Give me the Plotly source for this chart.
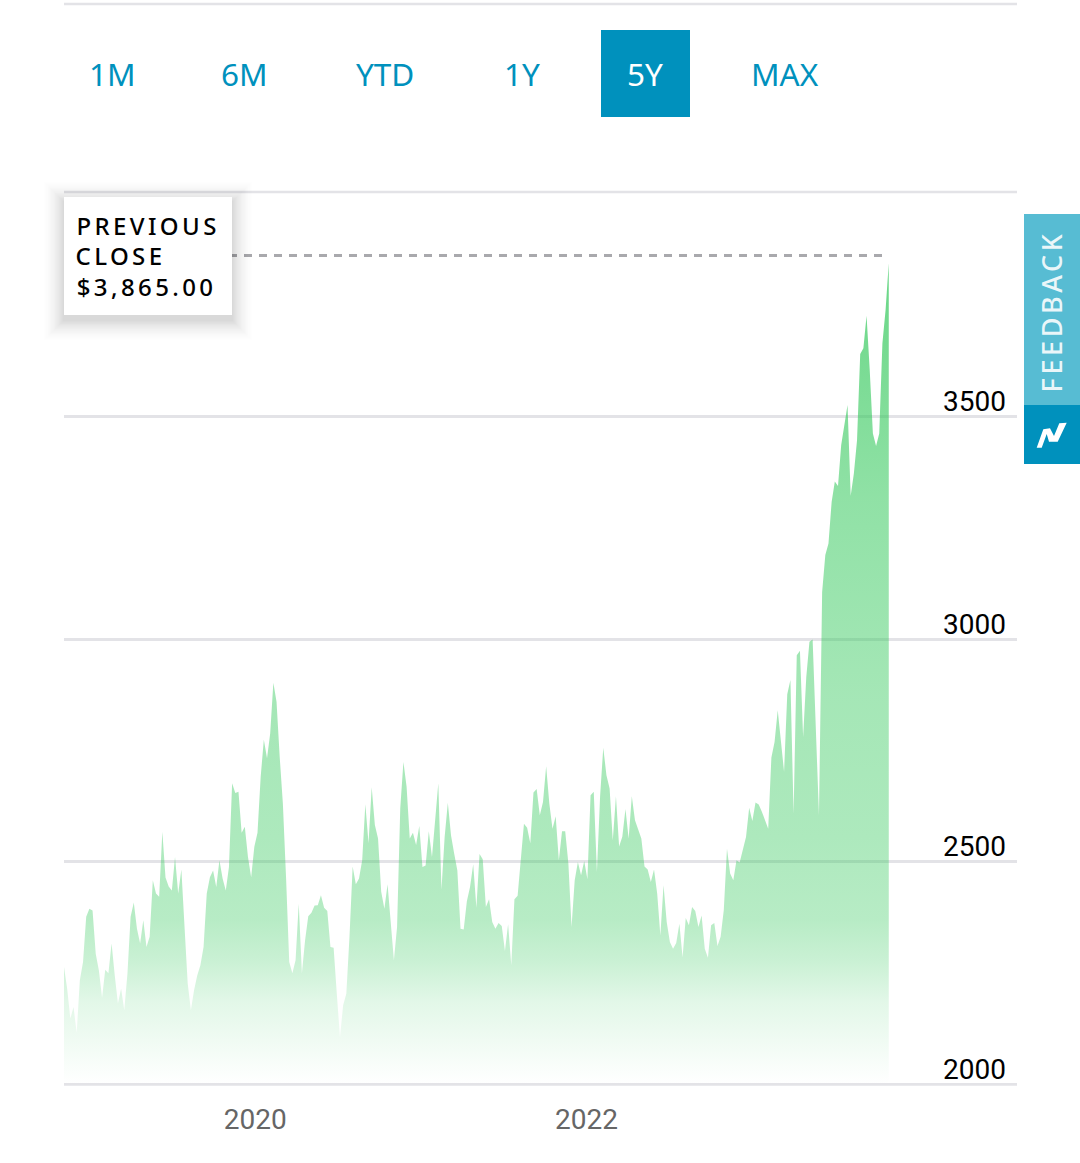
import pandas as pd
import plotly.graph_objects as go

W, H = 1080, 1163

close_values = [
 2263,2214,2147,2173,2115,2233,2274,2376,2394,2390,2293,2255,2194,2257,2249,2316,2244,2181,2214,2166,
 2248,2376,2408,2349,2316,2368,2308,2331,2458,2428,2421,2567,2464,2444,2435,2510,2428,2482,2353,2226,
 2166,2211,2244,2267,2308,2428,2465,2480,2443,2503,2462,2435,2488,2676,2654,2657,2565,2578,2510,2465,
 2533,2565,2690,2774,2732,2788,2902,2859,2735,2630,2465,2274,2249,2278,2405,2249,2323,2377,2385,2401,
 2402,2424,2396,2389,2308,2306,2203,2105,2177,2203,2331,2489,2449,2462,2503,2629,2541,2667,2582,2552,
 2432,2394,2449,2368,2278,2353,2619,2724,2668,2552,2565,2537,2580,2488,2491,2568,2510,2593,2676,2437,
 2556,2632,2559,2518,2480,2349,2347,2411,2443,2494,2396,2517,2505,2398,2415,2364,2349,2362,2355,2299,
 2359,2267,2415,2423,2510,2585,2576,2541,2655,2663,2604,2634,2714,2630,2574,2602,2503,2568,2568,2496,
 2353,2458,2499,2469,2501,2460,2649,2657,2477,2646,2756,2694,2664,2548,2647,2534,2556,2618,2552,2647,
 2593,2574,2552,2489,2482,2454,2482,2428,2334,2447,2364,2319,2304,2317,2360,2285,2373,2357,2398,2389,
 2353,2379,2304,2284,2357,2362,2310,2331,2391,2529,2473,2458,2503,2498,2525,2555,2621,2591,2633,2628,
 2612,2594,2574,2734,2769,2840,2773,2702,2876,2908,2608,2964,2974,2780,2915,2994,2999,2810,2604,3106,
 3189,3215,3309,3354,3344,3436,3478,3526,3322,3372,3447,3641,3654,3727,3605,3462,3434,3462,3665,3740,
 3845,
]
start_date = "2018-11-05"
dates = pd.date_range(start_date, periods=len(close_values), freq="7D")
y_ticks = [2000, 2500, 3000, 3500]
y_labels = ["2000", "2500", "3000", "3500"]
x_ticks = ["2020-01-01", "2022-01-01"]
x_labels = ["2020", "2022"]
range_buttons = ["1M", "6M", "YTD", "1Y", "5Y", "MAX"]
prev_close_line = 3862

BLUE = "#0091bd"
GRID = "#e3e3e7"
LOGO = [(1036.7, 447.7), (1041.7, 447.7), (1046.7, 434), (1049, 441.7), (1057.7, 441.7), (1066.7, 422.7),
        (1059.3, 423.3), (1054, 436), (1050, 428.3), (1043.3, 429.3)]


def px(x):
    return x / W


def py(y):
    return 1 - y / H


def rect(x0, y0, x1, y1, color, layer="above"):
    return dict(type="rect", xref="paper", yref="paper", x0=px(x0), x1=px(x1), y0=py(y0), y1=py(y1),
                fillcolor=color, line=dict(width=0), layer=layer)


def hline(y, x0=64, x1=1017):
    return dict(type="line", xref="paper", yref="paper", x0=px(x0), x1=px(x1), y0=py(y), y1=py(y),
                line=dict(color=GRID, width=2.7), layer="below")


def label(text, x, y, size, color, weight=400, **kw):
    return dict(text=text, x=px(x), y=py(y), xref="paper", yref="paper", showarrow=False,
                xanchor="center", yanchor="middle",
                font=dict(family="Noto Sans", size=size, color=color, weight=weight), **kw)


fig = go.Figure()
fig.add_trace(go.Scatter(
    x=dates, y=close_values, mode="lines", line=dict(width=0, color="rgba(50,200,90,0)"),
    fill="tozeroy", hoverinfo="skip", showlegend=False,
    fillgradient=dict(type="vertical", start=2000, stop=close_values[-1], colorscale=[
        [0, "rgba(50,200,90,0.0)"], [0.03, "rgba(50,200,90,0.04)"], [0.10, "rgba(50,200,90,0.14)"],
        [0.15, "rgba(50,200,90,0.26)"], [0.20, "rgba(50,200,90,0.35)"], [0.30, "rgba(50,200,90,0.40)"],
        [0.47, "rgba(50,200,90,0.44)"], [0.71, "rgba(50,200,90,0.54)"], [0.89, "rgba(50,200,90,0.66)"],
        [1, "rgba(50,200,90,0.74)"]]),
))
fig.add_trace(go.Scatter(
    x=[dates[0], dates[-1]], y=[prev_close_line, prev_close_line], mode="lines",
    line=dict(color="#a9a9ad", width=3, dash="8px,7px"), hoverinfo="skip", showlegend=False,
))

shapes = [hline(4), hline(192), hline(1084.4)]
shapes.append(rect(601, 30, 690, 117, BLUE))
# tooltip soft shadow: stacked translucent rectangles, widest and faintest first
for k in range(16, 0, -1):
    e = k * 1.3
    alpha = 0.0025 + 0.0009 * (16 - k)
    shapes.append(rect(64 - e, 197 - e + 5, 232 + e, 315 + e + 5, f"rgba(0,0,0,{alpha:.4f})"))
shapes.append(rect(64, 197, 232, 315, "#ffffff"))
shapes.append(rect(1024, 214, 1080, 405, "#57bcd3"))
shapes.append(rect(1024, 405, 1080, 464, BLUE))
logo_path = "M" + " L".join(f"{px(x):.5f},{py(y):.5f}" for x, y in LOGO) + " Z"
shapes.append(dict(type="path", xref="paper", yref="paper", layer="above", line=dict(width=0),
                   fillcolor="#ffffff", path=logo_path))

button_centers = [112, 244, 385, 522, 645, 785]
annotations = [
    label(t, x, 73.5, 31.5, "#ffffff" if t == "5Y" else BLUE)
    for t, x in zip(range_buttons, button_centers)
]
annotations += [
    label("PREVIOUS", 147.5, 225.5, 24, "#000000", weight=500),
    label("CLOSE", 120.5, 255.5, 24, "#000000", weight=500),
    label("$3,865.00", 146, 286.5, 24, "#000000", weight=500),
    label("FEEDBACK", 1051, 311, 27, "rgba(255,255,255,0.88)", weight=500, textangle=-90),
]

fig.update_layout(
    width=W, height=H, autosize=False, margin=dict(l=0, r=0, t=0, b=0, pad=0, autoexpand=False),
    paper_bgcolor="#ffffff", plot_bgcolor="#ffffff", showlegend=False,
    shapes=shapes, annotations=annotations,
    xaxis=dict(
        domain=[px(64), px(1017)], range=[dates[0], "2024-08-08"], type="date",
        tickmode="array", tickvals=x_ticks, ticktext=x_labels, showgrid=False, zeroline=False,
        ticks="", ticklabelstandoff=16, showline=False, automargin=False,
        tickfont=dict(family="Roboto", size=28, color="#666666"),
    ),
    yaxis=dict(
        domain=[py(1084), py(192)], range=[2000, 4005], side="right",
        tickmode="array", tickvals=y_ticks, ticktext=y_labels, showgrid=True, gridcolor=GRID, gridwidth=2.7,
        zeroline=False, ticks="", ticklabelposition="inside", ticklabeloverflow="allow",
        ticklabelshift=-15, ticklabelstandoff=8, automargin=False,
        tickfont=dict(family="Roboto", size=28, color="#000000"),
    ),
)

post = """
document.body.style.margin='0';
document.documentElement.style.overflow='hidden';
var spacing={'PREVIOUS':'3.4px','CLOSE':'3.4px','$3,865.00':'3.4px','FEEDBACK':'3.6px'};
document.querySelectorAll('.annotation-text').forEach(function(t){
  var s=spacing[t.textContent]; if(s){t.style.letterSpacing=s;}
});
"""
fig.write_html("out.html", post_script=post, config=dict(displayModeBar=False, responsive=False))
